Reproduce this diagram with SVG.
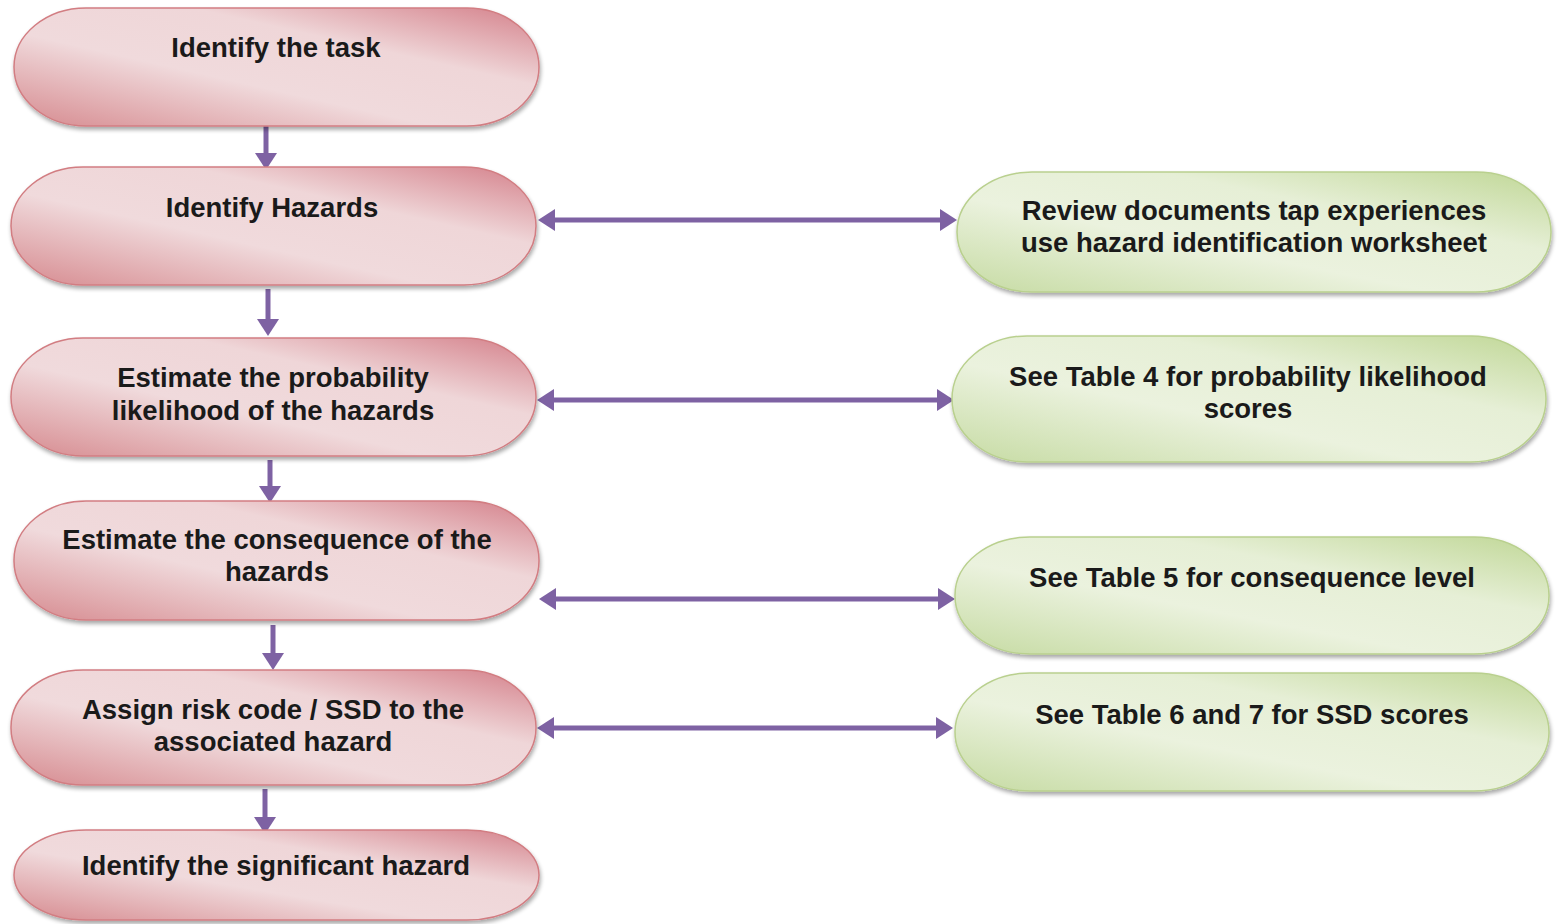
<svg xmlns="http://www.w3.org/2000/svg" width="1557" height="924" viewBox="0 0 1557 924">
  <defs>
    <linearGradient id="gradRed" x1="1" y1="0" x2="0" y2="1">
      <stop offset="0" stop-color="#d4808a"/>
      <stop offset="0.33" stop-color="#efd6d8"/>
      <stop offset="0.6" stop-color="#f0dadc"/>
      <stop offset="1" stop-color="#d68a8f"/>
    </linearGradient>
    <linearGradient id="gradGreen" x1="1" y1="0" x2="0" y2="1">
      <stop offset="0" stop-color="#c0d796"/>
      <stop offset="0.33" stop-color="#e6efd6"/>
      <stop offset="0.6" stop-color="#ebf2de"/>
      <stop offset="1" stop-color="#c6dba3"/>
    </linearGradient>
    <filter id="shadow" x="-5%" y="-10%" width="110%" height="130%">
      <feGaussianBlur in="SourceAlpha" stdDeviation="2"/>
      <feOffset dx="1" dy="3" result="off"/>
      <feComponentTransfer><feFuncA type="linear" slope="0.35"/></feComponentTransfer>
      <feMerge><feMergeNode/><feMergeNode in="SourceGraphic"/></feMerge>
    </filter>
    <marker id="head" markerUnits="userSpaceOnUse" markerWidth="20" markerHeight="22" refX="4" refY="11" orient="auto-start-reverse">
      <path d="M0,0 L17,11 L0,22 z" fill="#7e62a3"/>
    </marker>
  </defs>
  <style>
    .red { fill: url(#gradRed); stroke: #d27d82; stroke-width: 1.5; filter: url(#shadow); }
    .green { fill: url(#gradGreen); stroke: #b9d08e; stroke-width: 1.5; filter: url(#shadow); }
    .lbl { font-family: "Liberation Sans", Arial, sans-serif; font-weight: bold; font-size: 27.5px; fill: #1a1a1a; text-anchor: middle; }
    .link { stroke: #7e62a3; stroke-width: 5; fill: none; }
  </style>
  <rect width="1557" height="924" fill="#ffffff"/>

  <!-- Connectors -->
  <g id="connectors">
    <line class="link" x1="266" y1="124" x2="266" y2="157" marker-end="url(#head)"/>
    <line class="link" x1="268" y1="289" x2="268" y2="323" marker-end="url(#head)"/>
    <line class="link" x1="270" y1="460" x2="270" y2="490" marker-end="url(#head)"/>
    <line class="link" x1="273" y1="625" x2="273" y2="657" marker-end="url(#head)"/>
    <line class="link" x1="265" y1="789" x2="265" y2="821" marker-end="url(#head)"/>
    <line class="link" x1="551" y1="220" x2="944" y2="220" marker-start="url(#head)" marker-end="url(#head)"/>
    <line class="link" x1="550" y1="400" x2="941" y2="400" marker-start="url(#head)" marker-end="url(#head)"/>
    <line class="link" x1="552" y1="599" x2="942" y2="599" marker-start="url(#head)" marker-end="url(#head)"/>
    <line class="link" x1="550" y1="728" x2="940" y2="728" marker-start="url(#head)" marker-end="url(#head)"/>
  </g>

  <!-- Process steps -->
  <g id="step-task">
    <rect class="red" x="14" y="8" width="525" height="118" rx="72" ry="59"/>
    <text class="lbl" x="276" y="57">Identify the task</text>
  </g>
  <g id="step-hazards">
    <rect class="red" x="11" y="167" width="525" height="118" rx="72" ry="59"/>
    <text class="lbl" x="272" y="217">Identify Hazards</text>
  </g>
  <g id="step-probability">
    <rect class="red" x="11" y="338" width="525" height="118" rx="72" ry="59"/>
    <text class="lbl" x="273" y="387">Estimate the probability</text>
    <text class="lbl" x="273" y="420">likelihood of the hazards</text>
  </g>
  <g id="step-consequence">
    <rect class="red" x="14" y="501" width="525" height="119" rx="72" ry="59"/>
    <text class="lbl" x="277" y="549">Estimate the consequence of the</text>
    <text class="lbl" x="277" y="581">hazards</text>
  </g>
  <g id="step-risk-code">
    <rect class="red" x="11" y="670" width="525" height="115" rx="72" ry="57"/>
    <text class="lbl" x="273" y="719">Assign risk code / SSD to the</text>
    <text class="lbl" x="273" y="751">associated hazard</text>
  </g>
  <g id="step-significant">
    <rect class="red" x="14" y="830" width="525" height="90" rx="72" ry="45"/>
    <text class="lbl" x="276" y="875">Identify the significant hazard</text>
  </g>

  <!-- Reference notes -->
  <g id="note-review">
    <rect class="green" x="957" y="172" width="594" height="120" rx="75" ry="60"/>
    <text class="lbl" x="1254" y="220">Review documents tap experiences</text>
    <text class="lbl" x="1254" y="252">use hazard identification worksheet</text>
  </g>
  <g id="note-table4">
    <rect class="green" x="952" y="336" width="594" height="126" rx="75" ry="63"/>
    <text class="lbl" x="1248" y="386">See Table 4 for probability likelihood</text>
    <text class="lbl" x="1248" y="418">scores</text>
  </g>
  <g id="note-table5">
    <rect class="green" x="955" y="537" width="594" height="117" rx="75" ry="58"/>
    <text class="lbl" x="1252" y="587">See Table 5 for consequence level</text>
  </g>
  <g id="note-table67">
    <rect class="green" x="955" y="673" width="594" height="118" rx="75" ry="59"/>
    <text class="lbl" x="1252" y="724">See Table 6 and 7 for SSD scores</text>
  </g>
</svg>
